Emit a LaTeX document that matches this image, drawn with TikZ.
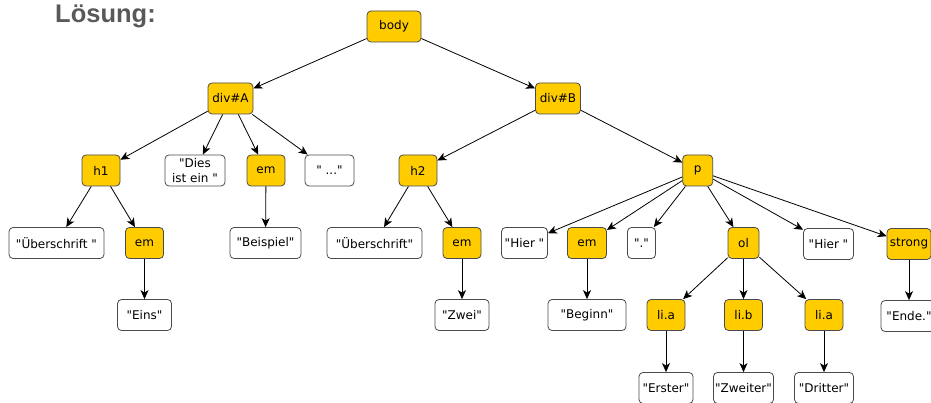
\documentclass[tikz,border=0pt]{standalone}
\usepackage{fontspec}
\usetikzlibrary{arrows.meta}
\newfontfamily\nodefont{DejaVu Sans}
\newfontfamily\headfont{Liberation Sans}
\newcommand{\dq}{\char34\relax}
\definecolor{ycol}{HTML}{FFCC00}
\definecolor{bcol}{HTML}{4A4A4A}
\definecolor{hcol}{HTML}{595959}
\tikzset{
  box/.style={rounded corners=4pt, draw=bcol, line width=0.8pt, minimum height=31pt, inner sep=0pt,
    font=\nodefont\fontsize{12}{14.3}\selectfont, align=center},
  tag/.style={box, fill=ycol},
  txt/.style={box, fill=white},
  arr/.style={-{Stealth[length=9pt,width=8pt,inset=2.5pt]}, line width=0.8pt, black}
}
\begin{document}
\begin{tikzpicture}[x=1pt,y=-1pt]
\useasboundingbox (0,0) rectangle (931,403);
\node[anchor=base west, inner sep=0pt, text=hcol, font=\headfont\bfseries\fontsize{25.5}{28}\selectfont] (title) at (55,22.5) {Lösung:};
% level 0-2
\node[tag, minimum width=54pt] (body) at (394,26.5) {body};
\node[tag, minimum width=45pt] (divA) at (230.5,98.5) {div\#A};
\node[tag, minimum width=45pt] (divB) at (558,98.5) {div\#B};
\node[tag, minimum width=38pt] (h1) at (101,170.5) {h1};
\node[txt, minimum width=60pt] (dies) at (195,170.5) {\dq Dies\\ist ein \dq};
\node[tag, minimum width=38pt] (emA) at (266,170.5) {em};
\node[txt, minimum width=49pt] (dots) at (329.5,170.5) {\dq\ ...\dq};
\node[tag, minimum width=38pt] (h2) at (418,170.5) {h2};
\node[tag, minimum width=30pt] (p) at (697.7,170.5) {p};
% level 3
\node[txt, minimum width=95pt] (ueb1) at (56.5,243) {\dq Überschrift \dq};
\node[tag, minimum width=38pt] (em1) at (144.5,243) {em};
\node[txt, minimum width=71pt] (beis) at (265.5,243) {\dq Beispiel\dq};
\node[txt, minimum width=95pt] (ueb2) at (374.5,243) {\dq Überschrift\dq};
\node[tag, minimum width=38pt] (em2) at (462,243) {em};
\node[txt, minimum width=46pt] (hier1) at (524.5,243) {\dq Hier \dq};
\node[tag, minimum width=39pt] (em3) at (587,243) {em};
\node[txt, minimum width=28pt] (dot) at (641.5,243) {\dq.\dq};
\node[tag, minimum width=31pt] (ol) at (743.5,243) {ol};
\node[txt, minimum width=50pt] (hier2) at (828.5,244) {\dq Hier \dq};
\node[tag, minimum width=44pt] (strong) at (909,244) {strong};
% level 4
\node[txt, minimum width=54pt] (eins) at (144.5,315) {\dq Eins\dq};
\node[txt, minimum width=54pt] (zwei) at (462,315) {\dq Zwei\dq};
\node[txt, minimum width=78pt] (beginn) at (587,315) {\dq Beginn\dq};
\node[tag, minimum width=38pt] (lia) at (666,315) {li.a};
\node[tag, minimum width=38pt] (lib) at (743.5,315) {li.b};
\node[tag, minimum width=38pt] (lia2) at (824,315) {li.a};
\node[txt, minimum width=56pt] (ende) at (909,316) {\dq Ende.\dq};
% level 5
\node[txt, minimum width=54pt] (erster) at (666,388) {\dq Erster\dq};
\node[txt, minimum width=60pt] (zweiter) at (743.5,388) {\dq Zweiter\dq};
\node[txt, minimum width=59pt] (dritter) at (824,388) {\dq Dritter\dq};
% edges
\draw[arr] (body) -- (divA);
\draw[arr] (body) -- (divB);
\draw[arr] (divA) -- (h1);
\draw[arr] (divA) -- (dies);
\draw[arr] (divA) -- (emA);
\draw[arr] (divA) -- (dots);
\draw[arr] (divB) -- (h2);
\draw[arr] (divB) -- (p);
\draw[arr] (h1) -- (ueb1);
\draw[arr] (h1) -- (em1);
\draw[arr] (em1) -- (eins);
\draw[arr] (emA) -- (beis);
\draw[arr] (h2) -- (ueb2);
\draw[arr] (h2) -- (em2);
\draw[arr] (em2) -- (zwei);
\draw[arr] (p) -- (hier1);
\draw[arr] (p) -- (em3);
\draw[arr] (p) -- (dot);
\draw[arr] (p) -- (ol);
\draw[arr] (p) -- (hier2);
\draw[arr] (p) -- (strong);
\draw[arr] (em3) -- (beginn);
\draw[arr] (ol) -- (lia);
\draw[arr] (ol) -- (lib);
\draw[arr] (ol) -- (lia2);
\draw[arr] (lia) -- (erster);
\draw[arr] (lib) -- (zweiter);
\draw[arr] (lia2) -- (dritter);
\draw[arr] (strong) -- (ende);
\end{tikzpicture}
\end{document}
